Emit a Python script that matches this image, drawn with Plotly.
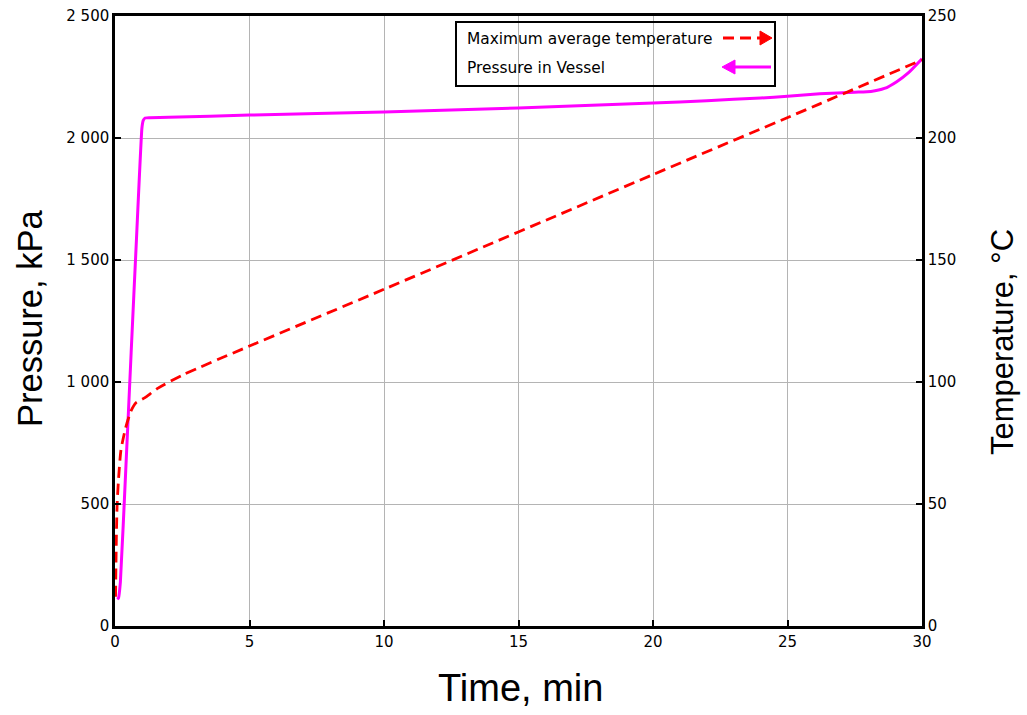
import plotly.graph_objects as go

# Pressure in vessel (kPa) vs time (min)
p_time = [0.08, 0.13, 0.2, 0.4, 0.6, 0.8, 1.0, 1.05, 1.12, 1.3, 2, 5, 10, 15, 20, 22, 24, 25, 26.2, 27.5, 28.1, 28.6, 29.06, 29.5, 30]
p_kpa = [110, 115, 180, 640, 1120, 1590, 2040, 2072, 2082, 2083, 2085, 2094, 2107, 2123, 2143, 2153, 2164, 2171, 2181, 2188, 2191, 2203, 2231, 2268, 2325]

# Maximum average temperature (°C) vs time (min)
t_time = [0.02, 0.05, 0.08, 0.13, 0.22, 0.39, 0.59, 0.78, 1.1, 1.6, 2.54, 10, 20, 26.2, 30]
t_degc = [12, 36, 50, 60, 72, 81, 88, 91.5, 93.5, 97.5, 103, 138, 185, 214, 232]

x_ticks = [0, 5, 10, 15, 20, 25, 30]
p_ticks = [0, 500, 1000, 1500, 2000, 2500]
p_ticktext = ["0", "500", "1 000", "1 500", "2 000", "2 500"]
t_ticks = [0, 50, 100, 150, 200, 250]

legend_labels = ["Maximum average temperature", "Pressure in Vessel"]

RED = "#FF0000"
MAG = "#FF00FF"
TICKFONT = dict(family="DejaVu Sans, Verdana, sans-serif", size=15, color="black")
TITLEFONT = dict(family="Liberation Sans, Arial, sans-serif", size=36, color="black")
DASH = "11px,6px"

fig = go.Figure()
fig.add_trace(go.Scatter(x=t_time, y=t_degc, mode="lines", yaxis="y2",
                         line=dict(color=RED, width=2.8, dash=DASH, shape="spline", smoothing=0.6),
                         name=legend_labels[0], showlegend=False, hoverinfo="skip"))
fig.add_trace(go.Scatter(x=p_time, y=p_kpa, mode="lines",
                         line=dict(color=MAG, width=3, shape="spline", smoothing=0.4),
                         name=legend_labels[1], showlegend=False, hoverinfo="skip"))

W, H = 1027, 715
# plot area in window pixels: x 115..922, y 16..626
ml, mt = 115, 16
mr = W - 922
mb = H - 626
pw, ph = W - ml - mr, H - mt - mb


def px(x):  # window pixel -> paper
    return (x - ml) / pw


def py(y):
    return 1 - (y - mt) / ph


axis_common = dict(showline=True, linecolor="black", linewidth=2.5, ticks="inside", ticklen=6,
                   tickwidth=1.5, tickcolor="black", tickfont=TICKFONT, zeroline=False,
                   automargin=False)

fig.update_layout(
    width=W, height=H,
    margin=dict(l=ml, r=mr, t=mt, b=mb, autoexpand=False),
    plot_bgcolor="white", paper_bgcolor="white",
    xaxis=dict(range=[0, 30], tickvals=x_ticks, showgrid=True, gridcolor="#b4b4b4", gridwidth=1,
               mirror=True, **axis_common),
    yaxis=dict(range=[0, 2500], tickvals=p_ticks, ticktext=p_ticktext, showgrid=True,
               gridcolor="#b4b4b4", gridwidth=1, **axis_common),
    yaxis2=dict(range=[0, 250], tickvals=t_ticks, overlaying="y", side="right", showgrid=False,
                **axis_common),
    showlegend=False,
    hovermode=False,
)

# Axis titles
fig.add_annotation(x=px(520), y=py(688), xref="paper", yref="paper", text="Time, min",
                   showarrow=False, font=dict(TITLEFONT, size=38), xanchor="center", yanchor="middle")
fig.add_annotation(x=px(30), y=py(319), xref="paper", yref="paper", text="Pressure, kPa",
                   showarrow=False, font=dict(TITLEFONT, size=34.5), textangle=-90,
                   xanchor="center", yanchor="middle")
fig.add_annotation(x=px(1002), y=py(342), xref="paper", yref="paper", text="Temperature, °C",
                   showarrow=False, font=dict(TITLEFONT, size=31), textangle=-90,
                   xanchor="center", yanchor="middle")

# Custom legend with arrow markers
fig.add_shape(type="rect", xref="paper", yref="paper", x0=px(456), x1=px(775), y0=py(86), y1=py(22),
              line=dict(color="black", width=2), fillcolor="rgba(0,0,0,0)")
LEGFONT = dict(family="DejaVu Sans, Verdana, sans-serif", size=15.4, color="black")
fig.add_annotation(x=px(465), y=py(39), xref="paper", yref="paper", text=legend_labels[0],
                   showarrow=False, font=LEGFONT, xanchor="left", yanchor="middle")
fig.add_annotation(x=px(465), y=py(68), xref="paper", yref="paper", text=legend_labels[1],
                   showarrow=False, font=LEGFONT, xanchor="left", yanchor="middle")
# red dashed arrow pointing right
fig.add_shape(type="line", xref="paper", yref="paper", x0=px(723), x1=px(761), y0=py(38), y1=py(38),
              line=dict(color=RED, width=2.8, dash=DASH))
fig.add_shape(type="path", xref="paper", yref="paper",
              path=f"M {px(760)} {py(31)} L {px(772)} {py(38)} L {px(760)} {py(45)} Z",
              fillcolor=RED, line=dict(color=RED, width=1))
# magenta arrow pointing left
fig.add_shape(type="line", xref="paper", yref="paper", x0=px(734), x1=px(771), y0=py(67), y1=py(67),
              line=dict(color=MAG, width=3))
fig.add_shape(type="path", xref="paper", yref="paper",
              path=f"M {px(735)} {py(60)} L {px(722)} {py(67)} L {px(735)} {py(74)} Z",
              fillcolor=MAG, line=dict(color=MAG, width=1))

fig.write_html("out.html", config={"displayModeBar": False},
               post_script="document.body.style.margin='0';document.body.style.overflow='hidden';")
